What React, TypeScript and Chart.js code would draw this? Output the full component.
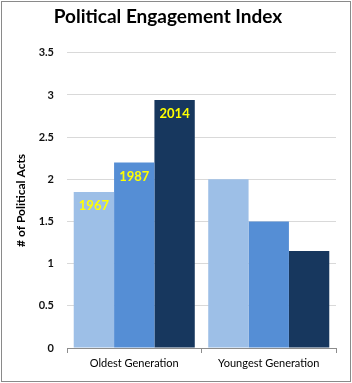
import React, { useEffect, useRef } from "react";
import { Chart, registerables } from "chart.js";

Chart.register(...registerables);

const categories = ["Oldest Generation", "Youngest Generation"];
const years = ["1967", "1987", "2014"];
const values1967 = [1.85, 2.0];
const values1987 = [2.2, 1.5];
const values2014 = [2.94, 1.15];
const yTicksMax = 3.5;
const yStep = 0.5;
const colors = ["#9DBFE7", "#558ED5", "#17375E"];

const FONT = "Lato, 'Open Sans', sans-serif";

const borderPlugin = {
  id: "outerBorder",
  beforeDraw(chart: any) {
    const ctx = chart.ctx;
    ctx.save();
    ctx.fillStyle = "#ffffff";
    ctx.fillRect(0, 0, chart.width, chart.height);
    ctx.strokeStyle = "#8a8a8a";
    ctx.lineWidth = 1;
    ctx.strokeRect(1.5, 1.5, chart.width - 3, chart.height - 3);
    ctx.restore();
  },
};

const yearLabelPlugin = {
  id: "yearLabels",
  afterDatasetsDraw(chart: any) {
    const ctx = chart.ctx;
    ctx.save();
    ctx.fillStyle = "#FFFF00";
    ctx.font = `bold 13px ${FONT}`;
    ctx.textAlign = "center";
    ctx.textBaseline = "middle";
    chart.data.datasets.forEach((ds: any, i: number) => {
      const meta = chart.getDatasetMeta(i);
      const bar = meta.data[0];
      if (!bar) return;
      ctx.fillText(ds.label, bar.x, bar.y + 14);
    });
    ctx.restore();
  },
};

export default function App() {
  const ref = useRef<HTMLCanvasElement>(null);
  useEffect(() => {
    if (!ref.current) return;
    const series = [values1967, values1987, values2014];
    const chart = new Chart(ref.current, {
      type: "bar",
      data: {
        labels: categories,
        datasets: years.map((y, i) => ({
          label: y,
          data: series[i],
          backgroundColor: colors[i],
          borderWidth: 0,
          categoryPercentage: 0.9,
          barPercentage: 1.0,
        })),
      },
      options: {
        responsive: false,
        animation: false,
        layout: { padding: { left: 0, right: 16, top: 0, bottom: 0 } },
        plugins: {
          legend: { display: false },
          tooltip: { enabled: false },
          title: {
            display: true,
            text: "Political Engagement Index",
            color: "#000000",
            font: { family: FONT, size: 19, weight: "bold" },
            padding: { top: 5, bottom: 25 },
          },
        },
        scales: {
          x: {
            grid: {
              display: true,
              drawOnChartArea: false,
              drawTicks: true,
              tickLength: 5,
              color: "#8c8c8c",
              offset: true,
            },
            border: { display: true, color: "#8c8c8c" },
            ticks: {
              color: "#000000",
              padding: 4,
              font: { family: FONT, size: 11 },
            },
            afterFit(scale: any) {
              scale.height = 35;
            },
          },
          y: {
            min: 0,
            max: yTicksMax,
            ticks: {
              stepSize: yStep,
              color: "#111111",
              padding: 13,
              font: { family: FONT, size: 11, weight: "bold" },
              callback: (v: any) => String(Number(v)),
            },
            grid: { color: "#d9d9d9", drawTicks: false },
            border: { display: false },
            title: {
              display: true,
              text: "# of Political Acts",
              color: "#000000",
              font: { family: FONT, size: 12, weight: "bold" },
              padding: { top: 14, bottom: 0 },
            },
            afterFit(scale: any) {
              scale.width = 67;
            },
          },
        },
      },
      plugins: [borderPlugin, yearLabelPlugin],
    });
    return () => chart.destroy();
  }, []);
  return (
    <div style={{ position: "fixed", left: 0, top: 0, width: 352, height: 383 }}>
      <canvas ref={ref} width={352} height={383} />
    </div>
  );
}
